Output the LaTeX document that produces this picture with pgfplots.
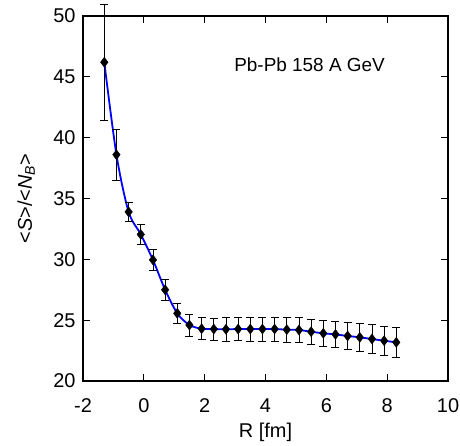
\documentclass[border=0pt]{standalone}
\usepackage{fontspec}
\setmainfont{Liberation Sans}
\usepackage{pgfplots}
\pgfplotsset{compat=1.18}
\usepackage{pgfplotstable}

\pgfplotstableread{
x     y      e
-1.3  46.2   4.8
-0.9  38.6   2.1
-0.5  33.9   0.8
-0.1  32.05  0.8
0.3   29.95  0.85
0.7   27.5   0.85
1.1   25.56  0.85
1.5   24.6   0.9
1.9   24.3   0.9
2.3   24.27  0.9
2.7   24.25  0.95
3.1   24.27  0.95
3.5   24.27  0.97
3.9   24.27  1.0
4.3   24.27  1.0
4.7   24.22  1.0
5.1   24.19  1.02
5.5   24.05  1.05
5.9   23.92  1.08
6.3   23.83  1.1
6.7   23.70  1.12
7.1   23.59  1.15
7.5   23.45  1.18
7.9   23.31  1.2
8.3   23.18  1.25
}\entropy

\begin{document}
\begin{tikzpicture}[x=1bp,y=1bp]
	\begin{axis}[
		at={(0,0)}, anchor=south west,
		scale only axis,
		width=365bp, height=365bp,
		clip=false,
		xmin=-2, xmax=10, ymin=20, ymax=50,
		xtick distance=2, ytick distance=5,
		tick align=inside,
		major tick length=7bp,
		minor tick num=0,
		axis line style={line width=1.1bp},
		every tick/.style={black, line width=1.1bp},
		tick label style={font=\fontsize{20}{22}\selectfont},
		xticklabel style={anchor=base, yshift=-31bp},
		yticklabel style={anchor=east, xshift=-4bp},
		label style={font=\fontsize{20}{22}\selectfont},
		/pgf/number format/assume math mode=true,
		xlabel={R [fm]},
		ylabel={<\textit{S}>/<\textit{N}\textsubscript{\textit{B}}>},
		xlabel style={at={(axis description cs:0.5,0)}, anchor=base, yshift=-56bp},
		ylabel style={at={(axis description cs:-0.14,0.5)}, anchor=base},
		]
		\addplot[blue, line width=1.8bp, smooth, tension=0.5] table[x=x, y=y] {\entropy};
		\addplot[black, only marks, mark=diamond*, mark size=5bp,
			error bars/.cd, y dir=both, y explicit,
			error bar style={line width=0.6bp},
			error mark options={rotate=90, mark size=4bp, line width=0.6bp}]
			table[x=x, y=y, y error=e] {\entropy};
		\node[anchor=base west, font=\fontsize{19}{22}\selectfont] at (axis cs:2.86,45.4) {Pb-Pb 158 A GeV};
	\end{axis}
	\pgfresetboundingbox
	\path[use as bounding box] (-83bp,-65bp) rectangle (377bp,381bp);
\end{tikzpicture}
\end{document}
